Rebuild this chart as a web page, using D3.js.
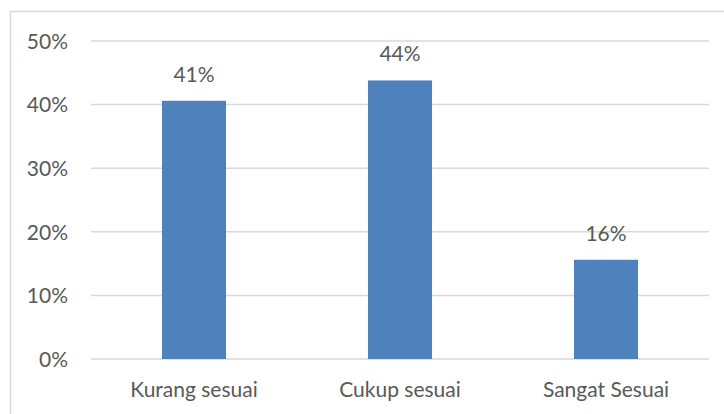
<!DOCTYPE html>
<html>
<head>
<meta charset="utf-8">
<script src="https://cdn.jsdelivr.net/npm/d3@7"></script>
<style>
  html, body { margin: 0; padding: 0; background: #fff; }
  svg { display: block; }
  text { font-family: Lato, "Open Sans", sans-serif; fill: #595959; }
</style>
</head>
<body>
<svg id="chart" width="724" height="414"></svg>
<script>
// Response categories and their shares
const categories = ["Kurang sesuai", "Cukup sesuai", "Sangat Sesuai"];
const values = [0.406, 0.438, 0.156];
const valueLabels = ["41%", "44%", "16%"];
const yTicks = [0, 0.1, 0.2, 0.3, 0.4, 0.5];

const svg = d3.select("#chart");
const W = 724, H = 414;
const plot = { left: 91, right: 709, top: 41, bottom: 359 };

// Outer chart frame
svg.append("rect")
  .attr("x", 10.5).attr("y", 11.5)
  .attr("width", W + 10).attr("height", H + 10)
  .attr("fill", "none").attr("stroke", "#d9d9d9").attr("stroke-width", 1.5);

const x = d3.scaleBand()
  .domain(categories)
  .range([plot.left, plot.right])
  .paddingInner(0.689)
  .paddingOuter(0.3445);

const y = d3.scaleLinear()
  .domain([0, 0.5])
  .range([plot.bottom, plot.top]);

// Horizontal gridlines
svg.append("g")
  .selectAll("line")
  .data(yTicks)
  .join("line")
  .attr("x1", plot.left).attr("x2", plot.right)
  .attr("y1", d => y(d)).attr("y2", d => y(d))
  .attr("stroke", "#d9d9d9").attr("stroke-width", 1.5);

// Y axis labels
const yAxis = d3.axisLeft(y)
  .tickValues(yTicks)
  .tickFormat(d3.format(".0%"))
  .tickSize(0)
  .tickPadding(0);
const gy = svg.append("g")
  .attr("transform", `translate(${plot.left - 23},0)`)
  .call(yAxis);
gy.select(".domain").remove();
gy.selectAll("text")
  .attr("font-size", 21)
  .attr("font-family", "Lato, 'Open Sans', sans-serif")
  .attr("fill", "#595959")
  .attr("dy", "0.35em");

// Bars
svg.append("g")
  .selectAll("rect")
  .data(values)
  .join("rect")
  .attr("x", (d, i) => x(categories[i]))
  .attr("width", x.bandwidth())
  .attr("y", d => y(d))
  .attr("height", d => y(0) - y(d))
  .attr("fill", "#4f81bd");

// Value labels above bars
svg.append("g")
  .selectAll("text")
  .data(values)
  .join("text")
  .attr("x", (d, i) => x(categories[i]) + x.bandwidth() / 2)
  .attr("y", d => y(d) - 19)
  .attr("text-anchor", "middle")
  .attr("font-size", 21)
  .text((d, i) => valueLabels[i]);

// Category axis labels
const xAxis = d3.axisBottom(x).tickSize(0).tickPadding(0);
const gx = svg.append("g")
  .attr("transform", `translate(0,${plot.bottom + 38})`)
  .call(xAxis);
gx.select(".domain").remove();
gx.selectAll("text")
  .attr("font-size", 21)
  .attr("font-family", "Lato, 'Open Sans', sans-serif")
  .attr("fill", "#595959")
  .attr("dy", "0");
</script>
</body>
</html>
